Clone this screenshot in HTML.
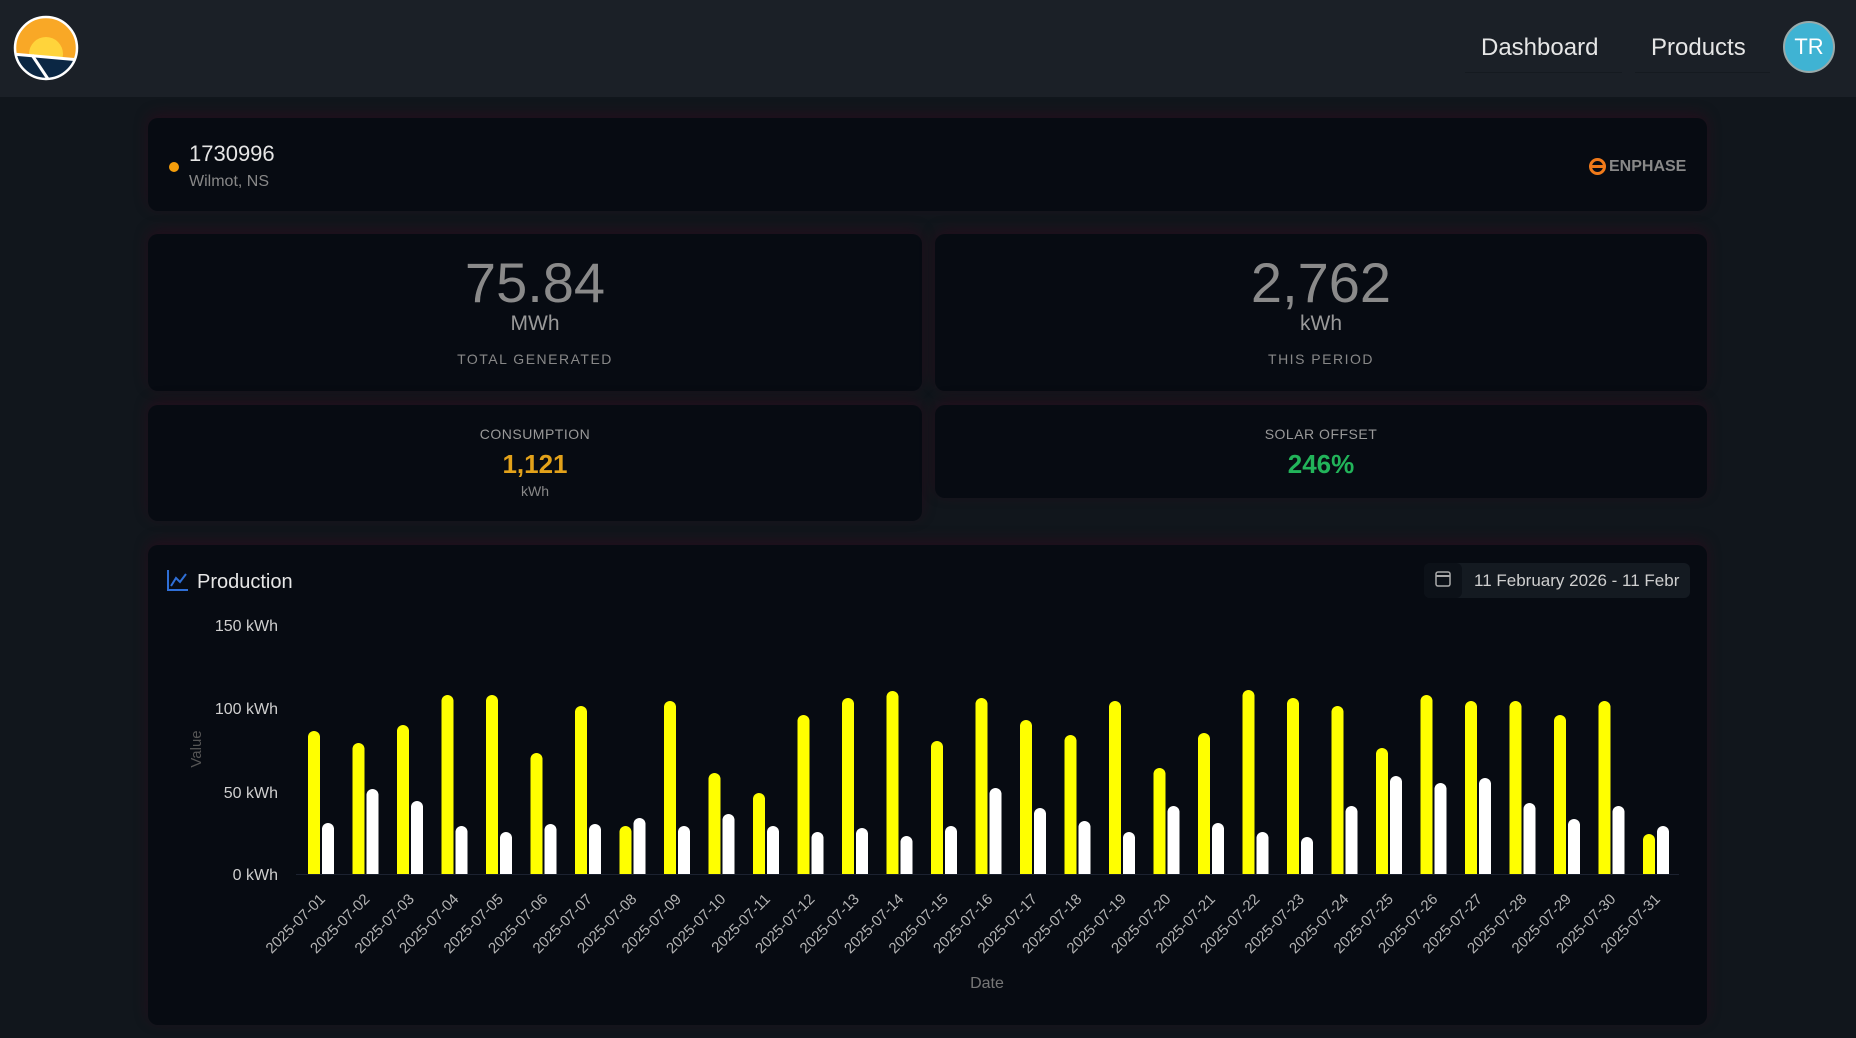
<!DOCTYPE html>
<html><head><meta charset="utf-8"><style>
*{margin:0;padding:0;box-sizing:border-box}
body{width:1856px;height:1038px;background:#11161c;font-family:"Liberation Sans",sans-serif;position:relative;overflow:hidden}
.nav{position:absolute;left:0;top:0;width:1856px;height:97px;background:#1b2027}
.card{position:absolute;background:#070b12;border-radius:10px;box-shadow:0 -4px 14px rgba(70,0,30,0.35)}
.a{position:absolute;white-space:nowrap}
.c{text-align:center}
</style></head><body>
<div class="nav">
<svg class="a" style="left:12px;top:14px" width="68" height="68" viewBox="0 0 68 68">
<defs><clipPath id="cl"><circle cx="34" cy="34" r="31"/></clipPath></defs>
<g clip-path="url(#cl)">
<rect x="0" y="0" width="68" height="68" fill="#f9a826"/>
<circle cx="34" cy="40" r="17" fill="#ffd43b"/>
<polygon points="0,40 68,46 68,68 0,68" fill="#0b2744"/>
<line x1="0" y1="40" x2="68" y2="46" stroke="#fff" stroke-width="3"/>
<line x1="20" y1="41" x2="38" y2="68" stroke="#fff" stroke-width="3"/>
</g>
<circle cx="34" cy="34" r="31" fill="none" stroke="#fff" stroke-width="2.5"/>
</svg>
<div class="a" style="left:1481px;top:34px;font-size:24px;color:#e6e6e6">Dashboard</div>
<div class="a" style="left:1465px;top:72px;width:157px;height:1px;background:#151a20"></div>
<div class="a" style="left:1651px;top:34px;font-size:24px;color:#e6e6e6">Products</div>
<div class="a" style="left:1635px;top:72px;width:135px;height:1px;background:#151a20"></div>
<div class="a" style="left:1783px;top:21px;width:52px;height:52px;border-radius:50%;border:2px solid #9aa;background:#3fb3d3;color:#fff;font-size:22px;line-height:48px;text-align:center">TR</div>
</div>

<div class="card" style="left:148px;top:118px;width:1559px;height:93px">
<div class="a" style="left:21px;top:44px;width:10px;height:10px;border-radius:50%;background:#f59e0b"></div>
<div class="a" style="left:41px;top:23px;font-size:22px;color:#e5e5e5">1730996</div>
<div class="a" style="left:41px;top:55px;font-size:16px;color:#888">Wilmot, NS</div>
<div class="a" style="left:1441px;top:40px;width:17px;height:17px;border:3px solid #f07a1a;border-radius:50%"></div>
<div class="a" style="left:1443px;top:47px;width:13px;height:3px;background:#f07a1a"></div>
<div class="a" style="left:1461px;top:40px;font-size:16px;color:#888;font-weight:bold">ENPHASE</div>
</div>

<div class="card" style="left:148px;top:234px;width:774px;height:157px">
<div class="a c" style="left:0;width:774px;top:16px;font-size:56px;color:#8a8a8a">75.84</div>
<div class="a c" style="left:0;width:774px;top:78px;font-size:21px;color:#999">MWh</div>
<div class="a c" style="left:0;width:774px;top:117px;font-size:14px;color:#888;letter-spacing:1.5px">TOTAL GENERATED</div>
</div>
<div class="card" style="left:935px;top:234px;width:772px;height:157px">
<div class="a c" style="left:0;width:772px;top:16px;font-size:56px;color:#8a8a8a">2,762</div>
<div class="a c" style="left:0;width:772px;top:78px;font-size:21px;color:#999">kWh</div>
<div class="a c" style="left:0;width:772px;top:117px;font-size:14px;color:#888;letter-spacing:1.5px">THIS PERIOD</div>
</div>
<div class="card" style="left:148px;top:405px;width:774px;height:116px">
<div class="a c" style="left:0;width:774px;top:21px;font-size:14px;color:#999;letter-spacing:0.5px">CONSUMPTION</div>
<div class="a c" style="left:0;width:774px;top:44px;font-size:26px;color:#e3a21a;font-weight:bold">1,121</div>
<div class="a c" style="left:0;width:774px;top:78px;font-size:14px;color:#888">kWh</div>
</div>
<div class="card" style="left:935px;top:405px;width:772px;height:93px">
<div class="a c" style="left:0;width:772px;top:21px;font-size:14px;color:#999;letter-spacing:0.5px">SOLAR OFFSET</div>
<div class="a c" style="left:0;width:772px;top:44px;font-size:26px;color:#22b45a;font-weight:bold">246%</div>
</div>

<div class="card" style="left:148px;top:545px;width:1559px;height:480px"></div>
<svg class="a" style="left:0;top:0" width="1856" height="1038">
<defs><clipPath id="dc"><rect x="1424" y="563" width="256" height="35"/></clipPath></defs>
<g stroke="#2f6fd6" stroke-width="2" fill="none"><polyline points="168,570 168,590 188,590"/><polyline points="171,586 176,578 180,582 186,574"/></g>
<text x="197" y="588" font-size="20" fill="#e6e6e6" font-family="Liberation Sans">Production</text>
<rect x="1424" y="563" width="266" height="35" rx="6" fill="#141a21"/>
<rect x="1424" y="563" width="38" height="35" rx="6" fill="#0c1118"/>
<rect x="1436" y="572" width="14" height="14" rx="2" fill="none" stroke="#aaa" stroke-width="1.5"/>
<line x1="1436" y1="576" x2="1450" y2="576" stroke="#aaa" stroke-width="2"/>
<text x="1474" y="586" font-size="17" fill="#cfcfcf" font-family="Liberation Sans" clip-path="url(#dc)">11 February 2026 - 11 February 2026</text>
<g font-family="Liberation Sans" font-size="16" fill="#cfcfcf" text-anchor="end">
<text x="278" y="631">150 kWh</text><text x="278" y="714">100 kWh</text><text x="278" y="798">50 kWh</text><text x="278" y="880">0 kWh</text>
</g>
<text transform="translate(201,749) rotate(-90)" text-anchor="middle" font-size="15" fill="#555" font-family="Liberation Sans">Value</text>
<line x1="296" y1="874.5" x2="1679" y2="874.5" stroke="#1c2230"/>
<g fill="#ffff00">
<path d="M308 874V737a6 6 0 0 1 12 0V874Z"/><path d="M352.5 874V749a6 6 0 0 1 12 0V874Z"/><path d="M397 874V731a6 6 0 0 1 12 0V874Z"/><path d="M441.5 874V701a6 6 0 0 1 12 0V874Z"/><path d="M486 874V701a6 6 0 0 1 12 0V874Z"/><path d="M530.5 874V759a6 6 0 0 1 12 0V874Z"/><path d="M575 874V712a6 6 0 0 1 12 0V874Z"/><path d="M619.5 874V832a6 6 0 0 1 12 0V874Z"/><path d="M664 874V707a6 6 0 0 1 12 0V874Z"/><path d="M708.5 874V779a6 6 0 0 1 12 0V874Z"/><path d="M753 874V799a6 6 0 0 1 12 0V874Z"/><path d="M797.5 874V721a6 6 0 0 1 12 0V874Z"/><path d="M842 874V704a6 6 0 0 1 12 0V874Z"/><path d="M886.5 874V697a6 6 0 0 1 12 0V874Z"/><path d="M931 874V747a6 6 0 0 1 12 0V874Z"/><path d="M975.5 874V704a6 6 0 0 1 12 0V874Z"/><path d="M1020 874V726a6 6 0 0 1 12 0V874Z"/><path d="M1064.5 874V741a6 6 0 0 1 12 0V874Z"/><path d="M1109 874V707a6 6 0 0 1 12 0V874Z"/><path d="M1153.5 874V774a6 6 0 0 1 12 0V874Z"/><path d="M1198 874V739a6 6 0 0 1 12 0V874Z"/><path d="M1242.5 874V696a6 6 0 0 1 12 0V874Z"/><path d="M1287 874V704a6 6 0 0 1 12 0V874Z"/><path d="M1331.5 874V712a6 6 0 0 1 12 0V874Z"/><path d="M1376 874V754a6 6 0 0 1 12 0V874Z"/><path d="M1420.5 874V701a6 6 0 0 1 12 0V874Z"/><path d="M1465 874V707a6 6 0 0 1 12 0V874Z"/><path d="M1509.5 874V707a6 6 0 0 1 12 0V874Z"/><path d="M1554 874V721a6 6 0 0 1 12 0V874Z"/><path d="M1598.5 874V707a6 6 0 0 1 12 0V874Z"/><path d="M1643 874V840a6 6 0 0 1 12 0V874Z"/>
</g>
<g fill="#ffffff">
<path d="M322 874V829a6 6 0 0 1 12 0V874Z"/><path d="M366.5 874V795a6 6 0 0 1 12 0V874Z"/><path d="M411 874V807a6 6 0 0 1 12 0V874Z"/><path d="M455.5 874V832a6 6 0 0 1 12 0V874Z"/><path d="M500 874V838a6 6 0 0 1 12 0V874Z"/><path d="M544.5 874V830a6 6 0 0 1 12 0V874Z"/><path d="M589 874V830a6 6 0 0 1 12 0V874Z"/><path d="M633.5 874V824a6 6 0 0 1 12 0V874Z"/><path d="M678 874V832a6 6 0 0 1 12 0V874Z"/><path d="M722.5 874V820a6 6 0 0 1 12 0V874Z"/><path d="M767 874V832a6 6 0 0 1 12 0V874Z"/><path d="M811.5 874V838a6 6 0 0 1 12 0V874Z"/><path d="M856 874V834a6 6 0 0 1 12 0V874Z"/><path d="M900.5 874V842a6 6 0 0 1 12 0V874Z"/><path d="M945 874V832a6 6 0 0 1 12 0V874Z"/><path d="M989.5 874V794a6 6 0 0 1 12 0V874Z"/><path d="M1034 874V814a6 6 0 0 1 12 0V874Z"/><path d="M1078.5 874V827a6 6 0 0 1 12 0V874Z"/><path d="M1123 874V838a6 6 0 0 1 12 0V874Z"/><path d="M1167.5 874V812a6 6 0 0 1 12 0V874Z"/><path d="M1212 874V829a6 6 0 0 1 12 0V874Z"/><path d="M1256.5 874V838a6 6 0 0 1 12 0V874Z"/><path d="M1301 874V843a6 6 0 0 1 12 0V874Z"/><path d="M1345.5 874V812a6 6 0 0 1 12 0V874Z"/><path d="M1390 874V782a6 6 0 0 1 12 0V874Z"/><path d="M1434.5 874V789a6 6 0 0 1 12 0V874Z"/><path d="M1479 874V784a6 6 0 0 1 12 0V874Z"/><path d="M1523.5 874V809a6 6 0 0 1 12 0V874Z"/><path d="M1568 874V825a6 6 0 0 1 12 0V874Z"/><path d="M1612.5 874V812a6 6 0 0 1 12 0V874Z"/><path d="M1657 874V832a6 6 0 0 1 12 0V874Z"/>
</g>
<g font-family="Liberation Sans" font-size="15" fill="#b5b5b5" text-anchor="end">
<text transform="translate(326,900) rotate(-45)">2025-07-01</text>
<text transform="translate(370.5,900) rotate(-45)">2025-07-02</text>
<text transform="translate(415,900) rotate(-45)">2025-07-03</text>
<text transform="translate(459.5,900) rotate(-45)">2025-07-04</text>
<text transform="translate(504,900) rotate(-45)">2025-07-05</text>
<text transform="translate(548.5,900) rotate(-45)">2025-07-06</text>
<text transform="translate(593,900) rotate(-45)">2025-07-07</text>
<text transform="translate(637.5,900) rotate(-45)">2025-07-08</text>
<text transform="translate(682,900) rotate(-45)">2025-07-09</text>
<text transform="translate(726.5,900) rotate(-45)">2025-07-10</text>
<text transform="translate(771,900) rotate(-45)">2025-07-11</text>
<text transform="translate(815.5,900) rotate(-45)">2025-07-12</text>
<text transform="translate(860,900) rotate(-45)">2025-07-13</text>
<text transform="translate(904.5,900) rotate(-45)">2025-07-14</text>
<text transform="translate(949,900) rotate(-45)">2025-07-15</text>
<text transform="translate(993.5,900) rotate(-45)">2025-07-16</text>
<text transform="translate(1038,900) rotate(-45)">2025-07-17</text>
<text transform="translate(1082.5,900) rotate(-45)">2025-07-18</text>
<text transform="translate(1127,900) rotate(-45)">2025-07-19</text>
<text transform="translate(1171.5,900) rotate(-45)">2025-07-20</text>
<text transform="translate(1216,900) rotate(-45)">2025-07-21</text>
<text transform="translate(1260.5,900) rotate(-45)">2025-07-22</text>
<text transform="translate(1305,900) rotate(-45)">2025-07-23</text>
<text transform="translate(1349.5,900) rotate(-45)">2025-07-24</text>
<text transform="translate(1394,900) rotate(-45)">2025-07-25</text>
<text transform="translate(1438.5,900) rotate(-45)">2025-07-26</text>
<text transform="translate(1483,900) rotate(-45)">2025-07-27</text>
<text transform="translate(1527.5,900) rotate(-45)">2025-07-28</text>
<text transform="translate(1572,900) rotate(-45)">2025-07-29</text>
<text transform="translate(1616.5,900) rotate(-45)">2025-07-30</text>
<text transform="translate(1661,900) rotate(-45)">2025-07-31</text>
</g>
<text x="987" y="988" text-anchor="middle" font-size="16" fill="#777" font-family="Liberation Sans">Date</text>
</svg>
</body></html>
